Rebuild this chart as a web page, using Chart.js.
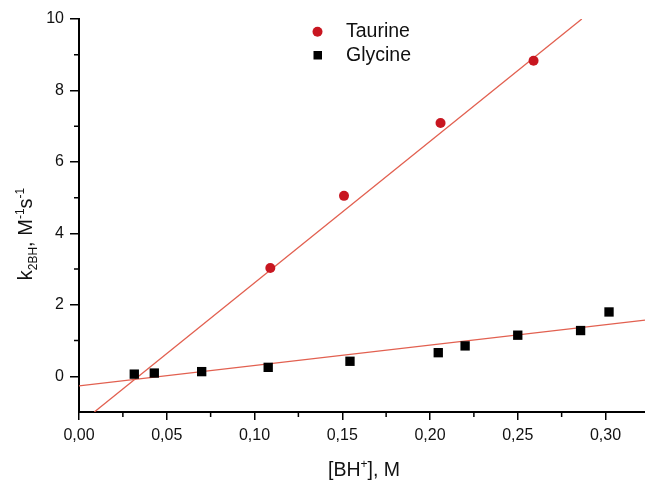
<!DOCTYPE html>
<html><head><meta charset="utf-8">
<script src="https://cdn.jsdelivr.net/npm/chart.js@4/dist/chart.umd.min.js"></script>
<style>html,body{margin:0;padding:0;background:#fff}#wrap{width:645px;height:481px;position:relative}</style>
</head><body><div id="wrap"><canvas id="c"></canvas></div>
<script>
// ---- data ----
const taurineX = [0.109, 0.151, 0.206, 0.259];
const taurineY = [3.03, 5.05, 7.09, 8.83];
const glycineX = [0.0315, 0.0429, 0.0699, 0.1078, 0.1544, 0.2047, 0.220, 0.250, 0.2858, 0.302];
const glycineY = [0.06, 0.09, 0.13, 0.25, 0.42, 0.66, 0.85, 1.15, 1.28, 1.80];
const taurineFit = [39.6, -1.345]; // slope, intercept of the drawn fit line
const glycineFit = [5.71, -0.27];
const xTicks = [0, 0.05, 0.10, 0.15, 0.20, 0.25, 0.30];
const xMinorTicks = [0.025, 0.075, 0.125, 0.175, 0.225, 0.275];
const yTicks = [0, 2, 4, 6, 8, 10];
const yMinorTicks = [1, 3, 5, 7, 9];
const xRange = [0, 0.3225];
const yRange = [-1, 10];
const seriesNames = ['Taurine', 'Glycine'];

const FONT = "'Liberation Sans', Arial, sans-serif";
const RED = 'rgb(200,22,32)';
const LINE = 'rgb(226,96,80)';

function fitLine(fit, x0, x1) {
  return [{x: x0, y: fit[0] * x0 + fit[1]}, {x: x1, y: fit[0] * x1 + fit[1]}];
}
const tx0 = (yRange[0] - taurineFit[1]) / taurineFit[0];
const tx1 = (yRange[1] - taurineFit[1]) / taurineFit[0];

const customDraw = {
  id: 'customDraw',
  afterDraw(chart) {
    const ctx = chart.ctx, xs = chart.scales.x, ys = chart.scales.y;
    const ca = chart.chartArea;
    ctx.save();
    ctx.strokeStyle = '#000'; ctx.lineWidth = 1.5;
    // minor ticks
    ctx.beginPath();
    xMinorTicks.forEach(v => { const p = xs.getPixelForValue(v); ctx.moveTo(p, ca.bottom); ctx.lineTo(p, ca.bottom + 5); });
    yMinorTicks.forEach(v => { const p = ys.getPixelForValue(v); ctx.moveTo(ca.left, p); ctx.lineTo(ca.left - 5, p); });
    ctx.stroke();

    // legend
    ctx.fillStyle = RED;
    ctx.beginPath(); ctx.arc(317.5, 31.7, 5, 0, Math.PI * 2); ctx.fill();
    ctx.fillStyle = '#000';
    ctx.fillRect(313.5, 51, 8.5, 8.5);
    ctx.font = '19.5px ' + FONT;
    ctx.textBaseline = 'middle'; ctx.textAlign = 'left';
    ctx.fillStyle = '#111';
    ctx.fillText(seriesNames[0], 346, 32);
    ctx.fillText(seriesNames[1], 346, 55.5);

    // x title
    const segX = [['[BH', 19.5, 0], ['+', 12, -8], ['], M', 19.5, 0]];
    drawSegs(ctx, segX, 364, 476, false);
    // y title
    const segY = [['k', 20, 0], ['2BH', 12, 5], [', M', 20, 0], ['-1', 12, -8], ['s', 20, 0], ['-1', 12, -8]];
    drawSegs(ctx, segY, 32, 234, true);
    ctx.restore();
  }
};
function drawSegs(ctx, segs, cx, baseY, rotated) {
  let total = 0;
  segs.forEach(s => { ctx.font = s[1] + 'px ' + FONT; total += ctx.measureText(s[0]).width; });
  ctx.save();
  ctx.translate(cx, baseY);
  if (rotated) ctx.rotate(-Math.PI / 2);
  ctx.textBaseline = 'alphabetic'; ctx.textAlign = 'left'; ctx.fillStyle = '#111';
  let x = -total / 2;
  segs.forEach(s => { ctx.font = s[1] + 'px ' + FONT; ctx.fillText(s[0], x, s[2]); x += ctx.measureText(s[0]).width; });
  ctx.restore();
}

new Chart(document.getElementById('c'), {
  type: 'scatter',
  data: {
    datasets: [
      {label: seriesNames[0], data: taurineX.map((x, i) => ({x, y: taurineY[i]})), pointStyle: 'circle', pointRadius: 5, backgroundColor: RED, borderColor: RED, borderWidth: 0, order: 0},
      {label: seriesNames[1], data: glycineX.map((x, i) => ({x, y: glycineY[i]})), pointStyle: 'rect', pointRadius: 6.6, backgroundColor: '#000', borderColor: '#000', borderWidth: 0, order: 0},
      {label: 'fitT', type: 'line', data: fitLine(taurineFit, tx0, tx1), showLine: true, pointRadius: 0, borderColor: LINE, borderWidth: 1.3, order: 1},
      {label: 'fitG', type: 'line', data: fitLine(glycineFit, xRange[0], xRange[1]), showLine: true, pointRadius: 0, borderColor: LINE, borderWidth: 1.3, order: 1}
    ]
  },
  options: {
    responsive: true, maintainAspectRatio: false, animation: false,
    layout: {autoPadding: false, padding: {top: 19, right: 0, left: 0, bottom: 0}},
    plugins: {legend: {display: false}, tooltip: {enabled: false}},
    scales: {
      x: {
        type: 'linear', min: xRange[0], max: xRange[1],
        afterBuildTicks: s => { s.ticks = xTicks.map(v => ({value: v})); },
        afterFit: s => { s.height = 69; s.paddingLeft = 0; s.paddingRight = 0; },
        grid: {display: true, drawOnChartArea: false, drawTicks: true, tickLength: 8, color: '#000', lineWidth: 1.5},
        border: {display: true, color: '#000', width: 2},
        ticks: {color: '#111', font: {family: FONT, size: 16}, padding: 6, maxRotation: 0, callback: v => v.toFixed(2).replace('.', ',')}
      },
      y: {
        type: 'linear', min: yRange[0], max: yRange[1],
        afterBuildTicks: s => { s.ticks = yTicks.map(v => ({value: v})); },
        afterFit: s => { s.width = 79; s.paddingTop = 0; s.paddingBottom = 0; },
        grid: {display: true, drawOnChartArea: false, drawTicks: true, tickLength: 9, color: '#000', lineWidth: 1.5},
        border: {display: true, color: '#000', width: 2},
        ticks: {color: '#111', font: {family: FONT, size: 16}, padding: 6, callback: v => String(v)}
      }
    }
  },
  plugins: [customDraw]
});
</script></body></html>
